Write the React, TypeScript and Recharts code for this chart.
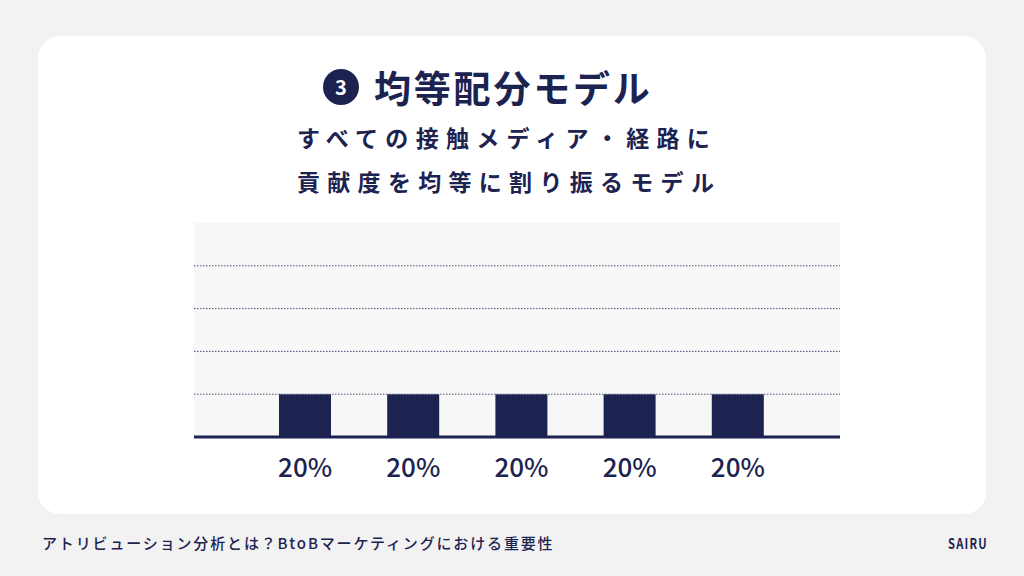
import React from "react";
import { BarChart, Bar, XAxis, YAxis, CartesianGrid, ReferenceLine } from "recharts";

const categories = ["メディア1", "メディア2", "メディア3", "メディア4", "メディア5"];
const shares = [20, 20, 20, 20, 20];
const shareLabels = ["20%", "20%", "20%", "20%", "20%"];
const gridTicks = [20, 40, 60, 80];

const data = categories.map((c, i) => ({ name: c, value: shares[i] }));

const NAVY = "#1d2350";
const FONT = '"Noto Sans CJK JP", "Noto Sans", sans-serif';

export default function App() {
  return (
    <div
      style={{
        position: "fixed",
        left: 0,
        top: 0,
        width: 1024,
        height: 576,
        background: "#f2f2f2",
        fontFamily: FONT,
        color: NAVY,
        overflow: "hidden",
      }}
    >
      <div
        style={{
          position: "absolute",
          left: 38,
          top: 36,
          width: 948,
          height: 478,
          background: "#ffffff",
          borderRadius: 22,
        }}
      />
      {/* title */}
      <div
        style={{
          position: "absolute",
          left: 323,
          top: 69,
          width: 36,
          height: 36,
          borderRadius: 18,
          background: NAVY,
          color: "#fff",
          fontSize: 20,
          fontWeight: 700,
          lineHeight: "36px",
          textAlign: "center",
        }}
      >
        3
      </div>
      <div
        style={{
          position: "absolute",
          left: 374,
          top: 62,
          fontSize: 37,
          fontWeight: 700,
          lineHeight: "50px",
          letterSpacing: 2.8,
          whiteSpace: "nowrap",
        }}
      >
        均等配分モデル
      </div>
      <div
        style={{
          position: "absolute",
          left: 297,
          top: 115,
          width: 440,
          fontSize: 23,
          fontWeight: 700,
          lineHeight: "44px",
          letterSpacing: 7.3,
          whiteSpace: "nowrap",
        }}
      >
        <div>すべての接触メディア・経路に</div>
        <div>貢献度を均等に割り振るモデル</div>
      </div>

      <div style={{ position: "absolute", left: 194, top: 223 }}>
        <BarChart
          width={646}
          height={264}
          data={data}
          margin={{ top: 0, right: 0, bottom: 0, left: 0 }}
          barCategoryGap={0}
        >
          <CartesianGrid vertical={false} horizontal={false} fill="#f7f7f7" />
          <YAxis hide domain={[0, 100]} ticks={gridTicks} />
          <XAxis
            dataKey="name"
            height={50}
            padding={{ left: 57, right: 48 }}
            axisLine={{ stroke: NAVY, strokeWidth: 3 }}
            tickLine={false}
            interval={0}
            tickFormatter={(_v: string, i: number) => shareLabels[i]}
            tick={{ fill: NAVY, fontSize: 26, fontWeight: 500, fontFamily: FONT, dy: 14 }}
          />
          {gridTicks.map((t) => (
            <ReferenceLine
              key={t}
              y={t}
              stroke="#4a5075"
              strokeDasharray="1.5 1.5"
              strokeWidth={1}
            />
          ))}
          <Bar dataKey="value" fill={NAVY} barSize={52} isAnimationActive={false} />
        </BarChart>
      </div>

      {/* footer */}
      <div
        style={{
          position: "absolute",
          left: 42,
          top: 532,
          fontSize: 15,
          fontWeight: 500,
          lineHeight: "22px",
          letterSpacing: 1.85,
          whiteSpace: "nowrap",
        }}
      >
        アトリビューション分析とは？BtoBマーケティングにおける重要性
      </div>
      <div
        style={{
          position: "absolute",
          left: 948,
          top: 532,
          fontSize: 14,
          fontWeight: 700,
          lineHeight: "22px",
          letterSpacing: 1.5,
          whiteSpace: "nowrap",
          transform: "scaleX(0.8)",
          transformOrigin: "left center",
        }}
      >
        SAIRU
      </div>
    </div>
  );
}
